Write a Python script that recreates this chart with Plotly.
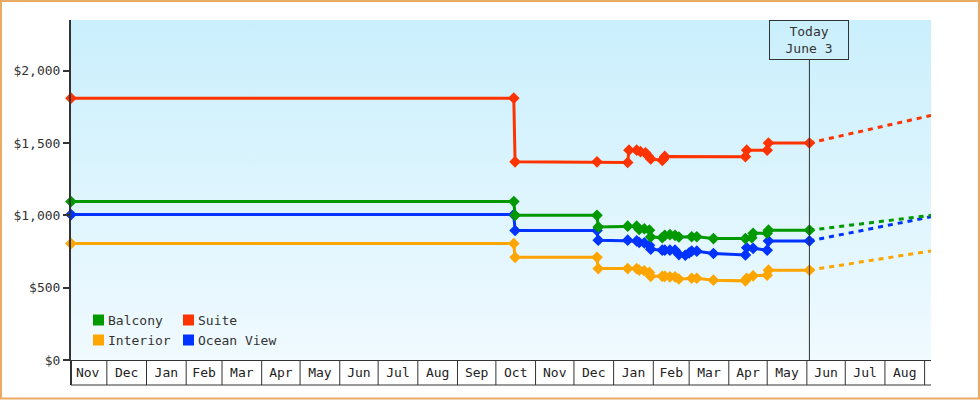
import base64
import pandas as pd
import plotly.graph_objects as go

# ---------------- data ----------------
suite_dates = ["2016-11-03", "2017-10-15", "2017-10-16", "2017-12-19", "2018-01-12", "2018-01-13",
               "2018-01-19", "2018-01-22", "2018-01-26", "2018-01-28", "2018-01-30", "2018-02-08",
               "2018-02-09", "2018-02-10", "2018-04-14", "2018-04-15", "2018-05-01", "2018-05-02",
               "2018-06-03"]
suite_vals = [1810, 1810, 1370, 1370, 1365, 1450, 1450, 1440, 1432, 1410, 1390, 1380,
              1390, 1407, 1405, 1450, 1450, 1500, 1500]

balcony_dates = ["2016-11-03", "2017-10-15", "2017-10-16", "2017-12-19", "2017-12-20", "2018-01-12",
                 "2018-01-19", "2018-01-21", "2018-01-25", "2018-01-29", "2018-01-30", "2018-02-08",
                 "2018-02-10", "2018-02-14", "2018-02-18", "2018-02-21", "2018-03-03", "2018-03-07",
                 "2018-03-20", "2018-04-14", "2018-04-19", "2018-04-20", "2018-05-01", "2018-05-02",
                 "2018-06-03"]
balcony_vals = [1095, 1095, 1000, 1000, 920, 925, 925, 902, 907, 897, 850, 846,
                862, 866, 862, 850, 852, 852, 839, 839, 845, 876, 876, 897, 897]

ocean_dates = ["2016-11-03", "2017-10-15", "2017-10-16", "2017-12-19", "2017-12-20", "2018-01-12",
               "2018-01-19", "2018-01-21", "2018-01-25", "2018-01-29", "2018-01-30", "2018-02-08",
               "2018-02-10", "2018-02-14", "2018-02-18", "2018-02-21", "2018-02-26", "2018-03-01",
               "2018-03-03", "2018-03-07", "2018-03-20", "2018-04-14", "2018-04-15", "2018-04-20",
               "2018-05-01", "2018-05-02", "2018-06-03"]
ocean_vals = [1005, 1005, 895, 895, 828, 828, 823, 812, 809, 793, 766, 759,
              759, 759, 759, 729, 724, 740, 752, 752, 736, 726, 776, 772,
              759, 823, 823]

interior_dates = ["2016-11-03", "2017-10-15", "2017-10-16", "2017-12-19", "2017-12-20", "2018-01-12",
                  "2018-01-19", "2018-01-21", "2018-01-25", "2018-01-29", "2018-01-30", "2018-02-08",
                  "2018-02-10", "2018-02-14", "2018-02-18", "2018-02-21", "2018-03-03", "2018-03-07",
                  "2018-03-20", "2018-04-14", "2018-04-15", "2018-04-20", "2018-05-01", "2018-05-02",
                  "2018-06-03"]
interior_vals = [805, 805, 710, 710, 632, 632, 632, 621, 617, 605, 578, 578,
                 578, 575, 575, 560, 565, 565, 552, 547, 565, 582, 586, 621, 621]

# forecast (dashed) from today to end of axis
forecast_dates = ["2018-06-03", "2018-09-06"]
suite_fc = [1500, 1690]
balcony_fc = [897, 1000]
ocean_fc = [823, 990]
interior_fc = [621, 754]

today = "2018-06-03"
x_range = ["2016-11-03", "2018-09-06"]
y_range = [0, 2350]

colors = {"Balcony": "#009900", "Suite": "#ff3300", "Interior": "#ffa500", "Ocean View": "#0033ff"}
FONT = "DejaVu Sans Mono"
TXT = "#333333"

# ---------------- figure ----------------
W, H = 980, 400
L, R, T, B = 71, 49, 20, 40
PW, PH = W - L - R, H - T - B


def px_x(p):
    return (p - L) / PW


def px_y(p):
    return (H - B - p) / PH


fig = go.Figure()

series = [
    ("Interior", interior_dates, interior_vals, interior_fc),
    ("Ocean View", ocean_dates, ocean_vals, ocean_fc),
    ("Balcony", balcony_dates, balcony_vals, balcony_fc),
    ("Suite", suite_dates, suite_vals, suite_fc),
]
for name, d, v, fc in series:
    c = colors[name]
    fig.add_trace(go.Scatter(x=forecast_dates, y=fc, mode="lines", showlegend=False,
                             line=dict(color=c, width=3, dash="5px,5px"), hoverinfo="skip"))
for name, d, v, fc in series:
    c = colors[name]
    fig.add_trace(go.Scatter(x=d, y=v, name=name, mode="lines+markers", showlegend=False,
                             cliponaxis=False,
                             line=dict(color=c, width=3),
                             marker=dict(symbol="diamond", size=9, color=c)))

# gradient background
svg = ('<svg xmlns="http://www.w3.org/2000/svg" width="860" height="340" preserveAspectRatio="none">'
       '<defs><linearGradient id="g" x1="0" y1="0" x2="0" y2="1">'
       '<stop offset="0" stop-color="#caeffc"/><stop offset="1" stop-color="#f0faff"/>'
       '</linearGradient></defs><rect width="860" height="340" fill="url(#g)"/></svg>')
src = "data:image/svg+xml;base64," + base64.b64encode(svg.encode()).decode()

shapes = []
# outer border
shapes.append(dict(type="rect", xref="paper", yref="paper",
                   x0=px_x(1), x1=px_x(979), y0=px_y(398.5), y1=px_y(1),
                   line=dict(color="#e9aa63", width=2), fillcolor="rgba(0,0,0,0)", layer="above"))
# month cell separators
box_bottom = px_y(H - B + 25)
for m in pd.date_range("2016-12-01", "2018-09-01", freq="MS"):
    shapes.append(dict(type="line", xref="x", yref="paper", x0=m, x1=m, y0=0, y1=box_bottom,
                       line=dict(color=TXT, width=1)))
shapes.append(dict(type="line", xref="paper", yref="paper", x0=0, x1=1, y0=box_bottom, y1=box_bottom,
                   line=dict(color=TXT, width=1)))
shapes.append(dict(type="line", xref="paper", yref="paper", x0=0, x1=0, y0=0, y1=box_bottom,
                   line=dict(color=TXT, width=2)))
# today line
shapes.append(dict(type="line", xref="x", yref="paper", x0=today, x1=today, y0=0, y1=px_y(60),
                   line=dict(color=TXT, width=1), layer="above"))

# legend swatches + labels
legend_items = [("Balcony", 93, 320), ("Suite", 183, 320), ("Interior", 93, 340), ("Ocean View", 183, 340)]
annotations = []
for name, lx, ly in legend_items:
    shapes.append(dict(type="rect", xref="paper", yref="paper",
                       x0=px_x(lx), x1=px_x(lx + 11), y0=px_y(ly + 5.5), y1=px_y(ly - 5.5),
                       line=dict(width=0), fillcolor=colors[name], layer="above"))
    annotations.append(dict(xref="paper", yref="paper", x=px_x(lx + 13), y=px_y(ly),
                            xanchor="left", yanchor="middle", text=name, showarrow=False,
                            font=dict(family=FONT, size=13, color=TXT)))

annotations.append(dict(xref="x", yref="paper", x=today, y=1, xanchor="center", yanchor="top",
                        text="Today<br>June 3", showarrow=False, width=78, height=38,
                        bordercolor=TXT, borderwidth=1, borderpad=0, bgcolor="rgba(0,0,0,0)",
                        font=dict(family=FONT, size=13, color=TXT)))

fig.update_layout(
    width=W, height=H,
    margin=dict(l=L, r=R, t=T, b=B, pad=0),
    paper_bgcolor="white",
    plot_bgcolor="#dff5fd",
    font=dict(family=FONT, size=13, color=TXT),
    showlegend=False,
    shapes=shapes,
    annotations=annotations,
    images=[dict(source=src, xref="paper", yref="paper", x=0, y=1, sizex=1, sizey=1,
                 sizing="stretch", xanchor="left", yanchor="top", layer="below")],
    xaxis=dict(range=x_range, type="date", showgrid=False, zeroline=False,
               showline=True, linecolor=TXT, linewidth=1,
               ticks="", dtick="M1", tick0="2016-11-01", tickformat="%b",
               ticklabelmode="period", tickfont=dict(family=FONT, size=13, color="#222222")),
    yaxis=dict(range=y_range, showgrid=False, zeroline=False,
               showline=True, linecolor=TXT, linewidth=2,
               ticks="outside", ticklen=6, tickwidth=2, tickcolor=TXT,
               dtick=500, tickprefix="$", tickformat=",d",
               tickfont=dict(family=FONT, size=13, color=TXT)),
)

fig.write_html("out.html")
